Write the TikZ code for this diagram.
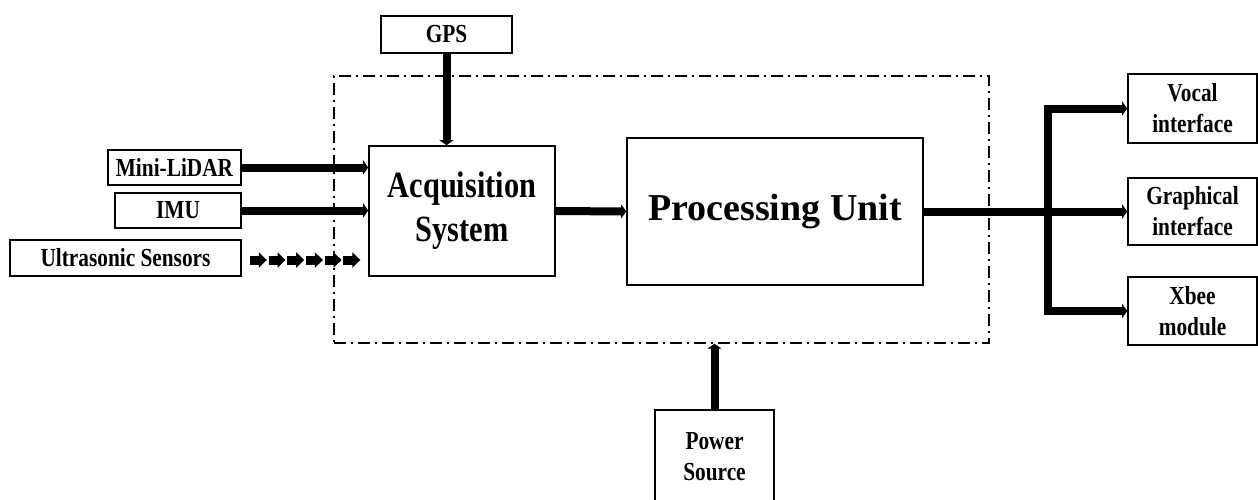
\documentclass[tikz,border=0pt]{standalone}
\usepackage{fontspec}
\newfontfamily\blkfont[FakeStretch=0.82]{Liberation Serif}
\newfontfamily\blkwide{Liberation Serif}
\usetikzlibrary{arrows.meta,positioning,calc}
\tikzset{
  blkBox/.style={
    draw=black,
    line width=1.6pt,
    fill=white,
    align=center,
    inner sep=0pt,
    font=\blkfont\bfseries\fontsize{26}{31}\selectfont
  },
  blkBig/.style={
    blkBox,
    font=\blkfont\bfseries\fontsize{37}{44}\selectfont
  },
  blkMain/.style={
    blkBox,
    font=\blkwide\bfseries\fontsize{38}{46}\selectfont
  },
  sysFrame/.style={
    draw=black,
    line width=1.4pt,
    dash pattern=on 12pt off 5pt on 2pt off 5pt,
    inner sep=0pt
  },
  busArrow/.style={
    -{Triangle[length=5pt,width=14pt]},
    line width=8pt,
    line join=miter
  },
  pulseArrow/.style={
    -{Triangle[length=8pt,width=15pt]},
    line width=9pt
  }
}

\begin{document}
\begin{tikzpicture}[x=1pt, y=-1pt]
  \useasboundingbox (0,0) rectangle (1258,499);

  \node[sysFrame, minimum width=655, minimum height=267] (frame) at (661.5,209.5) {};

  \node[blkBox, minimum width=131, minimum height=37] (gps) at (446.5,34.5) {GPS};
  \node[blkBig, minimum width=186, minimum height=130] (acq) at (462,211) {Acquisition\\System};
  \node[blkMain, minimum width=296, minimum height=147] (proc) at (775,211.5) {Processing Unit};

  \node[blkBox, minimum width=133, minimum height=35] (lidar) at (174.5,167.5) {Mini-LiDAR};
  \node[blkBox, minimum width=126, minimum height=35] (imu) at (178,210.5) {IMU};
  \node[blkBox, minimum width=231, minimum height=36] (us) at (125.5,258) {Ultrasonic Sensors};

  \node[blkBox, minimum width=129, minimum height=69] (vocal) at (1192.5,108.5) {Vocal\\interface};
  \node[blkBox, minimum width=129, minimum height=67] (graph) at (1192.5,211.5) {Graphical\\interface};
  \node[blkBox, minimum width=129, minimum height=68] (xbee) at (1192.5,311) {Xbee\\module};

  \node[blkBox, minimum width=119, minimum height=94] (power) at (714.5,457) {Power\\Source};

  \coordinate (split) at (1048,211.5);

  \draw[busArrow] (gps.south) -- (gps.south |- acq.north);
  \draw[busArrow] (lidar.east) -- (lidar.east -| acq.west);
  \draw[busArrow] (imu.east) -- (imu.east -| acq.west);
  \foreach \k in {0,...,5} {
    \draw[pulseArrow] ($(us.east)+(8+\k*18.7,2)$) -- ++(17,0);
  }
  \draw[busArrow] (acq.east) -- (proc.west);
  \draw[busArrow] (proc.east) -- (graph.west);
  \draw[busArrow] (split) |- (vocal.west);
  \draw[busArrow] (split) |- (xbee.west);
  \draw[busArrow] (power.north) -- (power.north |- frame.south);
\end{tikzpicture}
\end{document}
